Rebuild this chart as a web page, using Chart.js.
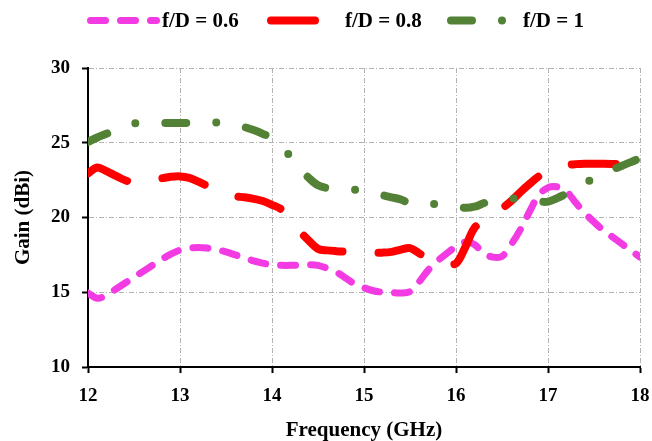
<!DOCTYPE html>
<html>
<head>
<meta charset="utf-8">
<title>Gain vs Frequency</title>
<script src="https://cdn.jsdelivr.net/npm/chart.js@4.4.0/dist/chart.umd.min.js"></script>
<style>
  html, body { margin: 0; padding: 0; background: #fff; }
  #gainChart { display: block; }
</style>
</head>
<body>
<canvas id="gainChart" width="652" height="441"></canvas>
<script>
// frequency samples (GHz) shared by all three feeds
const freq = [
  12.0, 12.1, 12.2, 12.3, 12.4, 12.5, 12.6, 12.7, 12.8, 12.9,
  13.0, 13.1, 13.2, 13.3, 13.4, 13.5, 13.6, 13.7, 13.8, 13.9,
  14.0, 14.1, 14.2, 14.3, 14.4, 14.5, 14.6, 14.7, 14.8, 14.9,
  15.0, 15.1, 15.2, 15.3, 15.4, 15.5, 15.6, 15.7, 15.8, 15.9,
  16.0, 16.1, 16.2, 16.3, 16.4, 16.5, 16.6, 16.7, 16.8, 16.9,
  17.0, 17.1, 17.2, 17.3, 17.4, 17.5, 17.6, 17.7, 17.8, 17.9,
  18.0
];

// gain in dBi
const gain06 = [
  14.95, 14.6, 14.8, 15.2, 15.6, 16.0, 16.4, 16.8, 17.2, 17.55,
  17.82, 17.95, 18.0, 17.95, 17.85, 17.7, 17.5, 17.3, 17.1, 16.95,
  16.82, 16.8, 16.8, 16.82, 16.85, 16.8, 16.6, 16.35, 15.95, 15.55,
  15.3, 15.1, 15.0, 14.97, 14.95, 15.05, 15.7, 16.5, 17.1, 17.6,
  18.05, 18.35, 18.2, 17.6, 17.35, 17.4, 18.2, 19.2, 20.4, 21.5,
  22.0, 22.05, 21.75, 21.0, 20.3, 19.7, 19.15, 18.7, 18.25, 17.8,
  17.35
];

const gain08 = [
  22.95, 23.35, 23.1, 22.8, 22.5, 22.33, 22.35, 22.5, 22.62, 22.72,
  22.75, 22.65, 22.4, 22.1, 21.8, 21.55, 21.42, 21.35, 21.25, 21.1,
  20.85, 20.55, 19.9, 19.1, 18.45, 17.9, 17.8, 17.75, 17.72, 17.7,
  17.68, 17.65, 17.65, 17.7, 17.85, 17.95, 17.6, 17.25, 17.0, 16.95,
  16.92, 18.0, 19.3, 19.75, 20.15, 20.6, 21.1, 21.7, 22.25, 22.75,
  23.05, 23.35, 23.5, 23.57, 23.6, 23.6, 23.6, 23.58, 23.55, 23.45,
  23.4
];

const gain10 = [
  25.05, 25.35, 25.6, 25.85, 26.1, 26.3, 26.32, 26.32, 26.32, 26.32,
  26.32, 26.32, 26.33, 26.35, 26.35, 26.3, 26.2, 26.05, 25.85, 25.6,
  25.3, 24.7, 24.1, 23.3, 22.65, 22.15, 21.97, 21.9, 21.87, 21.85,
  21.8, 21.7, 21.5, 21.35, 21.2, 20.95, 20.9, 20.9, 20.9, 20.85,
  20.75, 20.65, 20.72, 20.95, 21.15, 21.25, 21.28, 21.25, 21.15, 21.07,
  21.06, 21.3, 21.6, 21.95, 22.3, 22.6, 22.9, 23.2, 23.45, 23.7,
  23.97
];

const seriesLabels = ["f/D = 0.6", "f/D = 0.8", "f/D = 1"];
const xTicks = [12, 13, 14, 15, 16, 17, 18];
const yTicks = [10, 15, 20, 25, 30];

const serif = "'Times New Roman', 'Liberation Serif', serif";

function toPoints(values) {
  return values.map((v, i) => ({ x: freq[i], y: v }));
}

// legend drawn by hand so each sample can have its own length and gap
const legendSpots = [
  { from: 90.5, to: 156.5, textX: 162 },
  { from: 271, to: 323, textX: 345 },
  { from: 451, to: 505, textX: 523 }
];

const sampleLegend = {
  id: "sampleLegend",
  afterDraw(chart) {
    const ctx = chart.ctx;
    const y = 20.5;
    chart.data.datasets.forEach((ds, i) => {
      const spot = legendSpots[i];
      ctx.save();
      ctx.strokeStyle = ds.borderColor;
      ctx.lineWidth = ds.borderWidth;
      ctx.lineCap = "round";
      ctx.setLineDash(ds.borderDash);
      ctx.beginPath();
      ctx.moveTo(spot.from, y);
      ctx.lineTo(spot.to, y);
      ctx.stroke();
      ctx.setLineDash([]);
      ctx.fillStyle = "#000";
      ctx.font = "bold 21px " + serif;
      ctx.textBaseline = "middle";
      ctx.textAlign = "left";
      ctx.fillText(ds.label, spot.textX, y + 1);
      ctx.restore();
    });
  }
};

const gridDash = [5, 2, 1, 2];

new Chart(document.getElementById("gainChart"), {
  type: "line",
  data: {
    datasets: [
      {
        label: seriesLabels[0],
        data: toPoints(gain06),
        borderColor: "#F23BE3",
        borderWidth: 7,
        borderDash: [15, 15],
        order: 2
      },
      {
        label: seriesLabels[1],
        data: toPoints(gain08),
        borderColor: "#FF0000",
        borderWidth: 8,
        borderDash: [44, 36],
        order: 1
      },
      {
        label: seriesLabels[2],
        data: toPoints(gain10),
        borderColor: "#538135",
        borderWidth: 8,
        borderDash: [21, 30, 0, 30],
        order: 0
      }
    ]
  },
  options: {
    responsive: false,
    animation: false,
    layout: { padding: { top: 68, right: 12, left: 0, bottom: 0 } },
    elements: {
      point: { radius: 0 },
      line: {
        tension: 0.35,
        fill: false,
        borderCapStyle: "round",
        borderJoinStyle: "round"
      }
    },
    plugins: {
      legend: { display: false },
      tooltip: { enabled: false }
    },
    scales: {
      x: {
        type: "linear",
        min: 12,
        max: 18,
        afterFit(scale) {
          scale.height = 74;
          scale.paddingRight = 0;
        },
        afterBuildTicks(scale) { scale.ticks = xTicks.map(v => ({ value: v })); },
        ticks: {
          padding: 12,
          color: "#000",
          font: { family: serif, size: 19, weight: "bold" }
        },
        grid: {
          color: "#B3B3B3",
          lineWidth: 1,
          tickColor: "#000",
          tickLength: 6,
          tickWidth: 2
        },
        border: { display: true, color: "#000", width: 2, dash: gridDash },
        title: {
          display: true,
          text: "Frequency (GHz)",
          color: "#000",
          padding: { top: 0, bottom: 0 },
          font: { family: serif, size: 21, weight: "bold", lineHeight: 1 }
        }
      },
      y: {
        min: 10,
        max: 30,
        afterFit(scale) { scale.width = 88; },
        afterBuildTicks(scale) { scale.ticks = yTicks.map(v => ({ value: v })); },
        ticks: {
          padding: 12,
          color: "#000",
          font: { family: serif, size: 19, weight: "bold" }
        },
        grid: {
          color: "#B3B3B3",
          lineWidth: 1,
          tickColor: "#000",
          tickLength: 6,
          tickWidth: 2
        },
        border: { display: true, color: "#000", width: 2, dash: gridDash },
        title: {
          display: true,
          text: "Gain (dBi)",
          color: "#000",
          padding: { top: 13, bottom: 0 },
          font: { family: serif, size: 21, weight: "bold", lineHeight: 1 }
        }
      }
    }
  },
  plugins: [sampleLegend]
});
</script>
</body>
</html>
